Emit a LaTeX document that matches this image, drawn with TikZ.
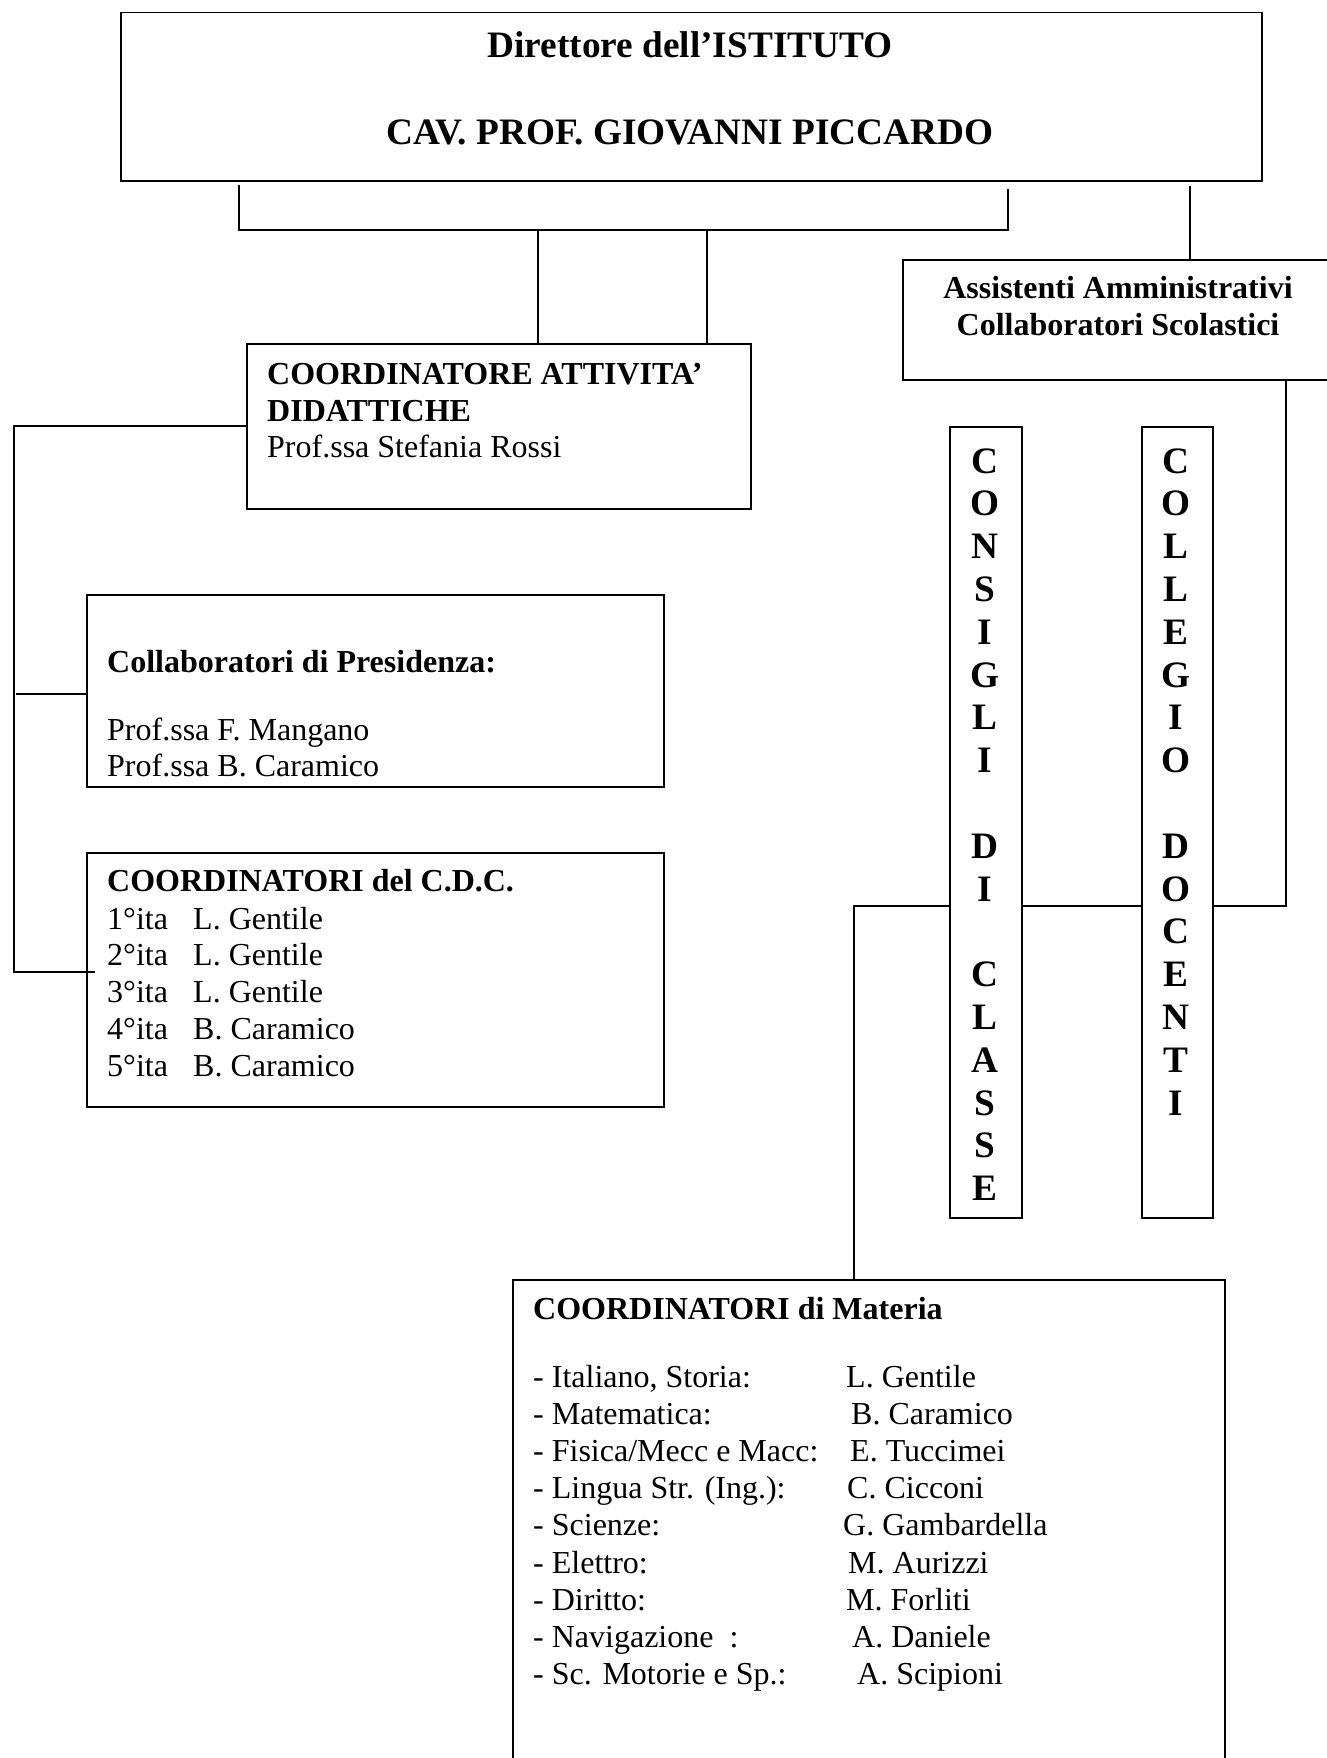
\documentclass[tikz,border=0pt]{standalone}
\usepackage{fontspec}
\setmainfont{Liberation Serif}
\newcommand\txtN{\fontsize{32}{36.8}\selectfont}
\newcommand\txtB{\fontsize{32}{36.8}\selectfont\bfseries}
\newcommand\txtT{\fontsize{37.3}{42.8}\selectfont\bfseries}
\tikzset{
  box/.style={draw, line width=1.5pt, inner sep=0pt, anchor=north west},
  conn/.style={line width=2pt},
  lab/.style={inner sep=0pt, anchor=base west},
  cen/.style={inner sep=0pt, anchor=base},
}
\begin{document}
\begin{tikzpicture}[x=1pt,y=-1pt]
\useasboundingbox (0,0) rectangle (1327,1758);
\clip (0,0) rectangle (1327,1758);
% boxes
\node[box, minimum width=1141pt, minimum height=168pt] (dir) at (120,12) {};
\node[box, minimum width=504pt, minimum height=165pt] (coord) at (246,343) {};
\node[box, minimum width=440pt, minimum height=120pt] (ass) at (902,259) {};
\node[box, minimum width=577pt, minimum height=192pt] (collab) at (86,594) {};
\node[box, minimum width=577pt, minimum height=254pt] (cdc) at (86,852) {};
\node[box, minimum width=72pt, minimum height=791pt] (cons) at (949,426) {};
\node[box, minimum width=71pt, minimum height=791pt] (coll) at (1141,426) {};
\node[box, minimum width=712pt, minimum height=540pt] (mat) at (512,1279) {};
% texts
\node[cen] (t1) at (690,58) {\txtT Direttore dell’ISTITUTO};
\node[cen] (t2) at (690,144) {\txtT CAV. PROF. GIOVANNI PICCARDO};
\node[cen] (t3) at (1118,298) {\txtB Assistenti Amministrativi};
\node[cen] (t4) at (1118,335) {\txtB Collaboratori Scolastici};
\node[lab] (t5) at (267,384) {\txtB COORDINATORE ATTIVITA’};
\node[lab] (t6) at (267,421) {\txtB DIDATTICHE};
\node[lab] (t7) at (267,457) {\txtN Prof.ssa Stefania Rossi};
\node[lab] (t8) at (107,672) {\txtB Collaboratori di Presidenza:};
\node[lab] (t9) at (107,740) {\txtN Prof.ssa F. Mangano};
\node[lab] (t10) at (107,776) {\txtN Prof.ssa B. Caramico};
\node[lab] (t11) at (107,891) {\txtB COORDINATORI del C.D.C.};
\foreach \i/\n [count=\k from 0] in {1/L. Gentile,2/L. Gentile,3/L. Gentile,4/B. Caramico,5/B. Caramico}{
  \node[lab] (cn\i) at (107,929+36.8*\k) {\txtN \i°ita};
  \node[lab] (cm\i) at (193,929+36.8*\k) {\txtN \n};
}
% vertical letters
\foreach \L [count=\k from 0] in {C,O,N,S,I,G,L,I,{},D,I,{},C,L,A,S,S,E}{
  \node[cen] (cl\k) at (985,473+42.8*\k) {\txtT \L};
}
\foreach \L [count=\k from 0] in {C,O,L,L,E,G,I,O,{},D,O,C,E,N,T,I}{
  \node[cen] (dl\k) at (1176,473+42.8*\k) {\txtT \L};
}
% materia
\node[lab] (m0) at (533,1319) {\txtB COORDINATORI di Materia};
\foreach \s/\n/\x [count=\k from 0] in {
  {- Italiano, Storia:}/{L. Gentile}/846,
  {- Matematica:}/{B. Caramico}/851,
  {- Fisica/Mecc e Macc:}/{E. Tuccimei}/850,
  {- Lingua Str. (Ing.):}/{C. Cicconi}/847,
  {- Scienze:}/{G. Gambardella}/843,
  {- Elettro:}/{M. Aurizzi}/848,
  {- Diritto:}/{M. Forliti}/846,
  {- Navigazione\ \ :}/{A. Daniele}/852,
  {- Sc. Motorie e Sp.:}/{A. Scipioni}/857}{
  \node[lab] (ms\k) at (533,1387+37.2*\k) {\txtN \s};
  \node[lab] (mn\k) at (\x,1387+37.2*\k) {\txtN \n};
}
% connectors
\coordinate (j1a) at (239,185);
\coordinate (j1b) at (239,230);
\coordinate (j2a) at (1008,189);
\coordinate (j2b) at (1008,230);
\draw[conn] (j1a) -- (j1b) -- (j2b) -- (j2a);
\coordinate (v1) at (538,230);
\coordinate (v2) at (707,230);
\draw[conn] (v1) -- (v1 |- coord.north);
\draw[conn] (v2) -- (v2 |- coord.north);
\coordinate (a1) at (1190,186);
\draw[conn] (a1) -- (a1 |- ass.north);
\coordinate (a2) at (1286,0);
\coordinate (h) at (0,906);
\draw[conn] (a2 |- ass.south) -- (a2 |- h) -- (coll.east |- h);
\draw[conn] (coll.west |- h) -- (cons.east |- h);
\coordinate (mx) at (854,0);
\draw[conn] (cons.west |- h) -- (mx |- h) -- (mx |- mat.north);
\coordinate (cl) at (0,426);
\coordinate (lx) at (14,0);
\coordinate (lb) at (14,972);
\draw[conn] (coord.west |- cl) -- (lx |- cl) -- (lb);
\coordinate (s1a) at (16,694);
\coordinate (s1b) at (88,694);
\draw[conn] (s1a) -- (s1b);
\coordinate (s2a) at (13,972);
\coordinate (s2b) at (95,972);
\draw[conn] (s2a) -- (s2b);
\end{tikzpicture}
\end{document}
